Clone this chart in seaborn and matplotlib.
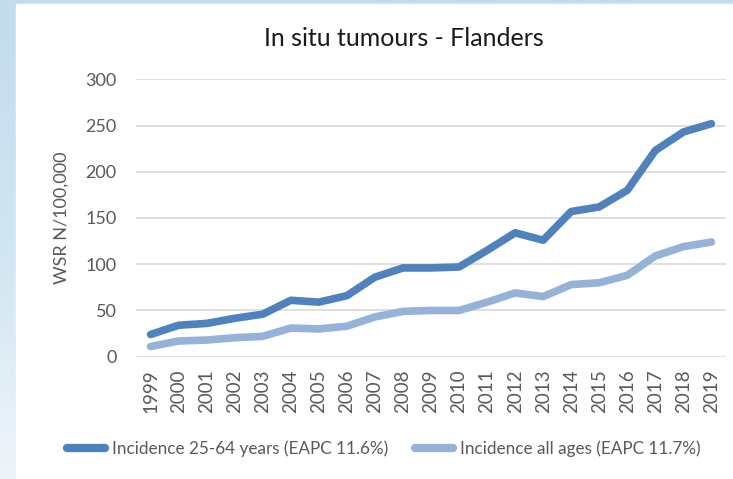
import numpy as np
import pandas as pd
import matplotlib
matplotlib.use("Agg")
import matplotlib.pyplot as plt
import seaborn as sns
from matplotlib.patches import Rectangle

years = list(range(1999, 2020))
incidence_25_64 = [24, 34, 36, 41.5, 46, 61, 59, 66, 86, 96, 96, 97,
                   115, 134, 126, 157, 162, 180, 223, 243, 252]
incidence_all = [11, 17, 18, 20.5, 22, 31, 30, 33, 43, 49, 50, 50,
                 59, 69, 65, 78, 80, 88, 109, 119, 124]
series_names = ["Incidence 25-64 years (EAPC 11.6%)",
                "Incidence all ages (EAPC 11.7%)"]

df = pd.DataFrame({
    "year": years * 2,
    "value": incidence_25_64 + incidence_all,
    "series": [series_names[0]] * len(years) + [series_names[1]] * len(years),
})

sns.set_style("white")
plt.rcParams['font.family'] = ['Lato', 'DejaVu Sans']

grey = '#595959'
palette = {series_names[0]: '#4f81bd', series_names[1]: '#95b3d7'}

fig = plt.figure(figsize=(7.33, 4.79), dpi=100)

# slide background: light blue strip on the left/top, white chart panel
bg = fig.add_axes([0, 0, 1, 1], zorder=-2)
grad = np.linspace(0, 1, 256).reshape(-1, 1)
cmap = matplotlib.colors.LinearSegmentedColormap.from_list('bg', ['#c3dcee', '#cfe5f2', '#eef5fa'])
bg.imshow(grad, aspect='auto', cmap=cmap, extent=[0, 1, 0, 1], origin='upper')
bg.add_patch(Rectangle((16 / 733, 0), 1, 475 / 479, color='white', zorder=2))
bg.set_axis_off()

ax = fig.add_axes([136 / 733, 1 - 356.7 / 479, 590 / 733, (356.7 - 79.3) / 479])
ax.set_facecolor('none')

sns.lineplot(data=df, x="year", y="value", hue="series", palette=palette,
             linewidth=5.5, ax=ax, legend=False, zorder=3)
for line in ax.lines:
    line.set_solid_capstyle('round')
    line.set_solid_joinstyle('round')

ax.set_xlim(1998.48, 2019.52)
ax.set_ylim(0, 300)
ax.set_yticks(range(0, 301, 50))
ax.set_xticks(years)
ax.set_xticklabels([str(y) for y in years], rotation=90, fontsize=13.5, color=grey)
ax.tick_params(axis='x', length=0, pad=9)
ax.tick_params(axis='y', length=0, pad=14, labelsize=13, labelcolor=grey)
ax.yaxis.grid(True, color='#d9d9d9', linewidth=1.2)
ax.xaxis.grid(False)
for s in ax.spines.values():
    s.set_visible(False)

ax.set_xlabel("")
ax.set_ylabel("WSR N/100,000", fontsize=13, color=grey)
ax.yaxis.set_label_coords(-0.113, 0.5)

fig.text(404 / 733, 1 - 38 / 479, "In situ tumours - Flanders", ha='center', va='center',
         fontsize=18, color='#1a1a1a')

handles = [plt.Line2D([], [], color=palette[n], linewidth=6, solid_capstyle='round') for n in series_names]
fig.legend(handles, series_names, loc='center', bbox_to_anchor=(384 / 733, 1 - 449 / 479),
           ncol=2, frameon=False, fontsize=12.3, labelcolor=grey, handlelength=2.2,
           handletextpad=0.4, columnspacing=1.6)

fig.savefig('out.png', dpi=100)
